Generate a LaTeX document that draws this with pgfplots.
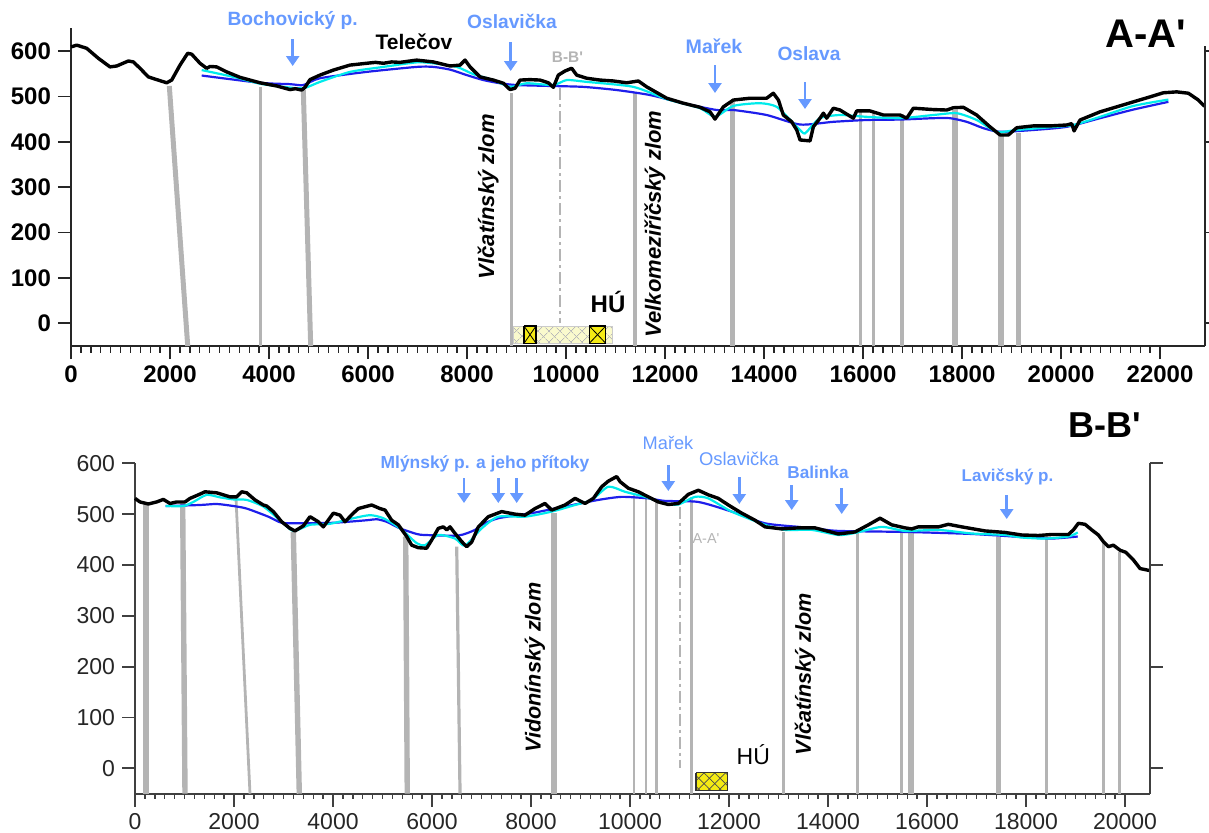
\documentclass[border=0pt]{standalone}
\usepackage{fontspec}
\setmainfont{Liberation Sans}
\usepackage{pgfplots}
\pgfplotsset{compat=1.18}
\usetikzlibrary{patterns.meta,arrows.meta}
\definecolor{lblue}{RGB}{102,153,255}
\definecolor{fgray}{RGB}{180,180,180}
\definecolor{cyanl}{RGB}{0,235,235}
\definecolor{bluel}{RGB}{30,30,235}
\definecolor{paley}{RGB}{250,250,205}
\definecolor{huy}{RGB}{245,235,20}
\begin{document}
\begin{tikzpicture}
\useasboundingbox (0,0) rectangle (604.5pt,-416pt);
% ================= TOP: A-A' =================
\begin{axis}[
 at={(35.5pt,-173pt)}, anchor=south west, scale only axis,
 width=566.8pt, height=158.85pt,
 xmin=0, xmax=22900, ymin=-50, ymax=650, clip=false,
 axis x line=bottom, axis y line=left,
 axis line style={-, line width=1pt, black!85},
 xtick={0,2000,...,22000}, minor x tick num=9, ytick={0,100,...,600},
 tick align=outside, major tick length=6.5pt, minor tick length=3.3pt,
 major tick style={line width=0.9pt, black!85}, minor tick style={line width=0.7pt, black!85},
 scaled ticks=false, /pgf/number format/1000 sep={}, /pgf/number format/assume math mode=true,
 ticklabel style={font=\fontsize{12}{14}\selectfont\bfseries},
]
% faults
\addplot[fgray, line width=2.5pt] coordinates {(1986,523) (2358,-50)};
\addplot[fgray, line width=1.8pt] coordinates {(3832,521) (3832,-50)};
\addplot[fgray, line width=2.5pt] coordinates {(4693,514) (4842,-50)};
\addplot[fgray, line width=1.6pt] coordinates {(8903,507) (8903,-50)};
\addplot[fgray, line width=1.6pt] coordinates {(11394,507) (11394,-50)};
\addplot[fgray, line width=2.5pt] coordinates {(13360,492) (13360,-50)};
\addplot[fgray, line width=1.6pt] coordinates {(15953,466) (15953,-50)};
\addplot[fgray, line width=1.6pt] coordinates {(16209,466) (16209,-50)};
\addplot[fgray, line width=1.6pt] coordinates {(16788,462) (16788,-50)};
\addplot[fgray, line width=2.8pt] coordinates {(17852,470) (17852,-50)};
\addplot[fgray, line width=2.8pt] coordinates {(18788,415) (18788,-50)};
\addplot[fgray, line width=2.4pt] coordinates {(19137,419) (19137,-50)};
\addplot[fgray, line width=1pt, dash pattern=on 6pt off 2pt on 1.5pt off 2pt] coordinates {(9879,518) (9879,0)};
% HU boxes
\addplot[draw=fgray!70, line width=0.4pt, fill=paley,
 postaction={pattern={Lines[angle=45,distance=4pt,line width=0.35pt]}, pattern color=gray!55},
 postaction={pattern={Lines[angle=-45,distance=4pt,line width=0.35pt]}, pattern color=gray!55}]
 coordinates {(8935,-7.5) (10943,-7.5) (10943,-44) (8935,-44) (8935,-7.5)};
\addplot[draw=black, line width=0.6pt, fill=huy] coordinates {(9152,-6) (9394,-6) (9394,-44) (9152,-44) (9152,-6)};
\addplot[black, line width=0.4pt] coordinates {(9152,-6) (9394,-44)};
\addplot[black, line width=0.4pt] coordinates {(9152,-44) (9394,-6)};
\addplot[draw=black, line width=0.6pt, fill=huy] coordinates {(10471,-6) (10802,-6) (10802,-44) (10471,-44) (10471,-6)};
\addplot[black, line width=0.4pt] coordinates {(10471,-6) (10802,-44)};
\addplot[black, line width=0.4pt] coordinates {(10471,-44) (10802,-6)};
% blue (strongly smoothed)
\addplot[bluel, line width=1.1pt, smooth, tension=0.4] coordinates {
(2640,546) (3818,530) (4424,527) (4693,525) (5030,540) (5973,554) (6983,565) (7319,565) (7657,559)
(7993,547) (8330,536) (8667,529) (9004,525) (9677,523) (10350,521) (11024,514) (11697,503) (12370,485)
(13044,470) (13380,470) (14053,459) (14727,438) (15400,444) (16074,448) (16747,449) (17420,452)
(17757,452) (18094,444) (18431,430) (18768,422) (19441,426) (20115,433) (20788,452) (21461,471) (22168,488)};
% cyan (smoothed)
\addplot[cyanl, line width=1.1pt, smooth, tension=0.4] coordinates {
(2640,558) (3279,543) (3818,528) (4290,521) (4693,518) (5030,532) (5636,554) (6310,565) (6983,575)
(7319,573) (7792,565) (8128,549) (8532,536) (8869,521) (9205,529) (9744,525) (10013,536) (10417,532)
(11360,521) (12034,494) (12707,474) (13010,455) (13380,479) (13919,485) (14256,477) (14592,441)
(14794,419) (14862,422) (15131,452) (15535,459) (16074,455) (16747,452) (17420,459) (17892,463)
(18295,448) (18700,422) (19105,426) (19778,432) (20251,437) (20788,455) (21461,479) (22168,493)};
% black terrain
\addplot[black, line width=1.7pt, line join=round] coordinates {
(0,609) (115,613) (317,606) (552,584) (788,565) (923,567) (1158,578) (1259,576) (1394,562) (1562,543)
(1731,537) (1933,530) (2034,536) (2202,569) (2357,595) (2438,593) (2606,573) (2741,562) (2810,566)
(2943,565) (3145,554) (3414,542) (3818,530) (4155,523) (4424,515) (4530,517) (4661,514) (4727,520)
(4828,537) (5030,547) (5300,558) (5636,569) (5973,573) (6150,575) (6310,573) (6480,576) (6646,575)
(6983,580) (7319,576) (7657,567) (7859,569) (7960,580) (8061,565) (8263,543) (8532,536) (8734,529)
(8869,515) (8970,518) (9071,536) (9273,537) (9475,536) (9643,530) (9744,520) (9845,547) (9980,556)
(10114,562) (10215,547) (10417,540) (10687,536) (10956,534) (11226,530) (11461,534) (11630,521)
(12034,496) (12370,485) (12707,476) (12909,466) (13010,450) (13178,477) (13380,492) (13717,496)
(14053,496) (14188,507) (14290,492) (14390,459) (14559,444) (14660,426) (14727,404) (14929,402)
(14996,433) (15131,452) (15198,463) (15266,452) (15400,474) (15535,470) (15804,452) (15872,468)
(16141,468) (16410,459) (16747,459) (16882,452) (17016,474) (17420,471) (17689,470) (17824,475)
(18026,476) (18295,459) (18564,433) (18768,415) (18935,415) (19105,431) (19441,435) (19778,435)
(20115,437) (20216,440) (20263,424) (20384,448) (20788,466) (21125,477) (21461,488) (21798,499)
(22067,508) (22337,510) (22572,507) (22774,492) (22900,478)};
% right axis line and ticks
\draw[black!85, line width=1pt] (axis cs:22900,-50) -- (axis cs:22900,612);
\pgfplotsinvokeforeach{0,200,400,600}{\draw[black!85, line width=0.9pt] (axis cs:22900,#1) -- ([xshift=4pt]axis cs:22900,#1);}
\end{axis}
% ================= BOTTOM: B-B' =================
\begin{axis}[
 at={(67.5pt,-396.85pt)}, anchor=south west, scale only axis,
 width=507.4pt, height=165.2pt,
 xmin=0, xmax=20500, ymin=-50, ymax=600, clip=false,
 axis x line=bottom, axis y line=left,
 axis line style={-, line width=1pt, black!75},
 xtick={0,2000,...,20000}, minor x tick num=9, ytick={0,100,...,600},
 tick align=outside, major tick length=6.5pt, minor tick length=2.6pt,
 major tick style={line width=0.9pt, black!75}, minor tick style={line width=0.7pt, black!75},
 scaled ticks=false, /pgf/number format/1000 sep={}, /pgf/number format/assume math mode=true,
 ticklabel style={font=\fontsize{11.5}{13}\selectfont, text=black!85},
]
% faults
\addplot[fgray, line width=2.7pt] coordinates {(222,522) (222,-50)};
\addplot[fgray, line width=2.7pt] coordinates {(963,521) (1010,-50)};
\addplot[fgray, line width=1.4pt] coordinates {(2040,531) (2323,-50)};
\addplot[fgray, line width=2.7pt] coordinates {(3198,465) (3319,-50)};
\addplot[fgray, line width=2.7pt] coordinates {(5468,456) (5500,-50)};
\addplot[fgray, line width=1.6pt] coordinates {(6499,436) (6566,-50)};
\addplot[fgray, line width=2.8pt] coordinates {(8465,502) (8465,-50)};
\addplot[fgray, line width=1.3pt] coordinates {(10081,538) (10081,-50)};
\addplot[fgray, line width=1.3pt] coordinates {(10323,538) (10323,-50)};
\addplot[fgray, line width=1.3pt] coordinates {(10539,524) (10539,-50)};
\addplot[fgray, line width=1.3pt] coordinates {(11246,534) (11246,-50)};
\addplot[fgray, line width=1.3pt] coordinates {(13097,465) (13097,-50)};
\addplot[fgray, line width=1.3pt] coordinates {(14592,465) (14592,-50)};
\addplot[fgray, line width=1.3pt] coordinates {(15488,465) (15488,-50)};
\addplot[fgray, line width=2.8pt] coordinates {(15677,465) (15677,-50)};
\addplot[fgray, line width=2.8pt] coordinates {(17441,456) (17441,-50)};
\addplot[fgray, line width=1.3pt] coordinates {(18418,455) (18418,-50)};
\addplot[fgray, line width=1.3pt] coordinates {(19562,443) (19562,-50)};
\addplot[fgray, line width=1.3pt] coordinates {(19885,425) (19885,-50)};
\addplot[fgray, line width=1pt, dash pattern=on 6pt off 2pt on 1.5pt off 2pt] coordinates {(11010,515) (11010,0)};
% HU box
\addplot[draw=black!80, line width=0.6pt, fill=huy,
 postaction={pattern={Lines[angle=45,distance=3.8pt,line width=0.4pt]}, pattern color=black!70},
 postaction={pattern={Lines[angle=-45,distance=3.8pt,line width=0.4pt]}, pattern color=black!70}]
 coordinates {(11333,-8.7) (11974,-8.7) (11974,-44) (11333,-44) (11333,-8.7)};
% blue
\addplot[bluel, line width=1.1pt, smooth, tension=0.4] coordinates {
(620,516) (1313,518) (1650,520) (1986,516) (2256,511) (2694,495) (2963,483) (3333,482) (4007,483)
(4680,488) (4882,490) (5084,485) (5354,472) (5690,461) (5859,459) (6532,458) (6869,469) (7003,479)
(7340,492) (8013,502) (8687,515) (9360,528) (9832,534) (10370,531) (10707,526) (11380,524) (12054,505)
(12727,482) (13401,475) (13737,472) (14209,467) (15556,465) (16902,461) (17912,455) (18518,452) (19044,456)};
% cyan
\addplot[cyanl, line width=1.1pt, smooth, tension=0.4] coordinates {
(620,516) (976,516) (1178,524) (1448,538) (1717,533) (1986,529) (2256,528) (2592,515) (2929,488)
(3198,467) (3535,479) (3939,481) (4411,492) (4747,498) (5017,492) (5354,472) (5690,443) (5859,439)
(6127,459) (6465,452) (6667,438) (7003,472) (7340,495) (7879,495) (8418,505) (8889,518) (9226,528)
(9562,554) (9899,544) (10303,534) (10707,521) (10976,519) (11313,534) (11582,531) (12054,505)
(12727,479) (13131,469) (13670,469) (14209,459) (14545,463) (15084,475) (15556,467) (16229,469)
(16902,462) (17576,459) (17912,454) (18384,452) (18855,456) (19044,464)};
% black
\addplot[black, line width=1.7pt, line join=round] coordinates {
(0,531) (101,524) (269,520) (438,524) (572,529) (707,521) (842,524) (1010,524) (1111,531) (1279,538)
(1414,544) (1650,542) (1919,534) (2054,534) (2155,544) (2256,542) (2424,528) (2592,518) (2660,516)
(2795,505) (2963,485) (3131,472) (3232,467) (3401,477) (3535,495) (3704,485) (3805,475) (4007,502)
(4141,498) (4242,485) (4411,502) (4512,511) (4781,518) (4949,511) (5051,508) (5185,488) (5320,479)
(5488,456) (5589,439) (5724,434) (5892,433) (5993,449) (6127,472) (6229,475) (6300,469) (6364,475)
(6465,462) (6600,446) (6700,436) (6801,445) (6936,475) (7138,495) (7407,505) (7677,500) (7879,498)
(8081,511) (8283,521) (8418,508) (8687,518) (8889,531) (9091,521) (9259,531) (9428,554) (9562,565)
(9731,574) (9798,564) (9966,551) (10168,544) (10370,534) (10572,524) (10774,519) (10976,521)
(11178,539) (11380,547) (11582,538) (11784,531) (11986,518) (12256,502) (12525,488) (12727,475)
(13064,471) (13401,473) (13737,473) (14209,461) (14545,465) (14815,479) (15051,492) (15286,479)
(15556,473) (15690,471) (15824,475) (16229,475) (16431,480) (16700,475) (17172,467) (17576,464)
(17912,459) (18249,458) (18518,460) (18855,460) (18956,469) (19057,482) (19192,480) (19327,469)
(19461,459) (19562,446) (19663,436) (19764,439) (19899,429) (20014,425) (20168,410) (20303,393)
(20500,389)};
% right axis
\draw[black!75, line width=1pt] (axis cs:20500,-50) -- (axis cs:20500,600);
\pgfplotsinvokeforeach{0,200,400,600}{\draw[black!75, line width=0.9pt] (axis cs:20500,#1) -- ([xshift=6.5pt]axis cs:20500,#1);}
\end{axis}
% ================= annotations (pixel coordinates) =================
\begin{scope}[x=0.5pt,y=-0.5pt]
\tikzset{arr/.style={lblue, line width=1.4pt, -{Triangle[width=6.5pt,length=5pt]}}}
% top
\node[font=\fontsize{9.6}{11}\selectfont\bfseries, text=lblue] at (292.7,20.7) {Bochovický p.};
\draw[arr] (292.7,39) -- (292.7,66);
\node[font=\fontsize{10.5}{12}\selectfont\bfseries] at (414,42) {Telečov};
\node[font=\fontsize{9.6}{11}\selectfont\bfseries, text=lblue] at (512,21.7) {Oslavička};
\draw[arr] (510.7,42) -- (510.7,71);
\node[font=\fontsize{7.7}{9}\selectfont\bfseries, text=fgray] at (567.5,57.3) {B-B\textquotesingle};
\node[font=\fontsize{9.8}{11}\selectfont\bfseries, text=lblue] at (714,46.7) {Mařek};
\draw[arr] (715,65) -- (715,93);
\node[font=\fontsize{9.6}{11}\selectfont\bfseries, text=lblue] at (809,53.3) {Oslava};
\draw[arr] (805,82) -- (805,109);
\node[font=\fontsize{20}{22}\selectfont\bfseries] at (1146,33.3) {A-A\textquotesingle};
\node[font=\fontsize{12}{14}\selectfont\bfseries] at (608,302) {HÚ};
\node[rotate=90, font=\fontsize{11}{13}\selectfont\bfseries\itshape] at (488.3,196.7) {Vlčatínský zlom};
\node[rotate=90, font=\fontsize{11}{13}\selectfont\bfseries\itshape] at (655,224) {Velkomeziříčský zlom};
% bottom
\node[font=\fontsize{8.7}{10}\selectfont\bfseries, text=lblue] at (485,464) {Mlýnský p. a jeho přítoky};
\draw[arr] (464,478) -- (464,503);
\draw[arr] (498.3,478) -- (498.3,503);
\draw[arr] (516.7,478) -- (516.7,503);
\node[font=\fontsize{9.1}{11}\selectfont, text=lblue] at (668,442.7) {Mařek};
\draw[arr] (668.3,465) -- (668.3,491);
\node[font=\fontsize{9.2}{11}\selectfont, text=lblue] at (739,459.3) {Oslavička};
\draw[arr] (739.3,477) -- (739.3,504);
\node[font=\fontsize{8.6}{10}\selectfont\bfseries, text=lblue] at (818,472.7) {Balinka};
\draw[arr] (791.7,485) -- (791.7,510);
\draw[arr] (841.7,488) -- (841.7,514);
\node[font=\fontsize{8.5}{10}\selectfont\bfseries, text=lblue] at (1007.5,477) {Lavičský p.};
\draw[arr] (1006.7,495) -- (1006.7,519);
\node[font=\fontsize{18}{20}\selectfont\bfseries] at (1105,425) {B-B\textquotesingle};
\node[font=\fontsize{7.2}{9}\selectfont, text=fgray] at (706,538.3) {A-A\textquotesingle};
\node[font=\fontsize{11.5}{13}\selectfont] at (753.3,755) {HÚ};
\node[rotate=90, font=\fontsize{10.8}{13}\selectfont\bfseries\itshape] at (535,667.5) {Vidonínský zlom};
\node[rotate=90, font=\fontsize{10.8}{13}\selectfont\bfseries\itshape] at (805,674) {Vlčatínský zlom};
\end{scope}
\end{tikzpicture}
\end{document}
